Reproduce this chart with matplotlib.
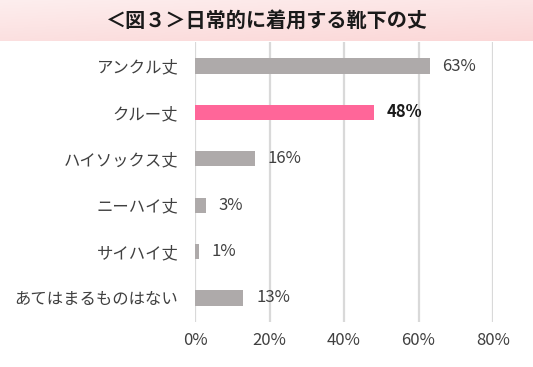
import matplotlib
matplotlib.use("Agg")
import matplotlib.pyplot as plt
import numpy as np
from matplotlib.colors import LinearSegmentedColormap

plt.rcParams['font.family'] = ['Noto Sans CJK JP', 'DejaVu Sans']

title = "＜図３＞日常的に着用する靴下の丈"
categories = ["アンクル丈", "クルー丈", "ハイソックス丈", "ニーハイ丈", "サイハイ丈", "あてはまるものはない"]
values = [63, 48, 16, 3, 1, 13]
highlight = "クルー丈"
xticks = [0, 20, 40, 60, 80]
xticklabels = ["0%", "20%", "40%", "60%", "80%"]

gray = "#aeaaaa"
pink = "#ff6699"

fig = plt.figure(figsize=(5.33, 3.67), dpi=100)

# title band with gradient
band = fig.add_axes([0, 1 - 41/367, 1, 41/367])
band.set_axis_off()
h, w = 40, 200
yy = np.linspace(0, 1, h)[:, None]
xx = np.linspace(0, 1, w)[None, :]
t = 0.5 * yy + 0.3 * xx + 0.15
t = np.clip(t, 0, 1)
cmap = LinearSegmentedColormap.from_list("band", ["#fdf2f2", "#fbd6d6"])
band.imshow(t, cmap=cmap, aspect="auto", extent=[0, 1, 0, 1], origin="upper", vmin=0, vmax=1)
band.set_xlim(0, 1)
band.set_ylim(0, 1)
band.text(0.5, 0.5, title, ha="center", va="center", fontsize=14.5, fontweight="bold", color="#1a1a1a")

ax = fig.add_axes([195/533, 45/367, 298/533, 280/367])
y = np.arange(len(categories))
colors = [pink if c == highlight else gray for c in categories]
ax.barh(y, values, height=0.33, color=colors, zorder=3)
ax.set_ylim(len(categories) - 0.48, -0.52)
ax.set_xlim(0, 80)
ax.set_xticks(xticks)
ax.set_xticklabels(xticklabels, fontsize=12, color="#404040")
ax.set_yticks(y)
ax.set_yticklabels(categories, fontsize=11.8, color="#404040")
ax.tick_params(axis="both", length=0)
ax.tick_params(axis="x", pad=7)
ax.tick_params(axis="y", pad=12)
for s in ax.spines.values():
    s.set_visible(False)
ax.grid(axis="x", color="#d9d9d9", linewidth=1.6, zorder=0)
ax.set_axisbelow(True)

for yi, v, c in zip(y, values, categories):
    bold = (c == highlight)
    ax.text(v + 3.4, yi, f"{v}%", va="center", ha="left",
            fontsize=12, color="#1a1a1a" if bold else "#404040",
            fontweight="bold" if bold else "normal")

fig.savefig("out.png", dpi=100, facecolor="white")
